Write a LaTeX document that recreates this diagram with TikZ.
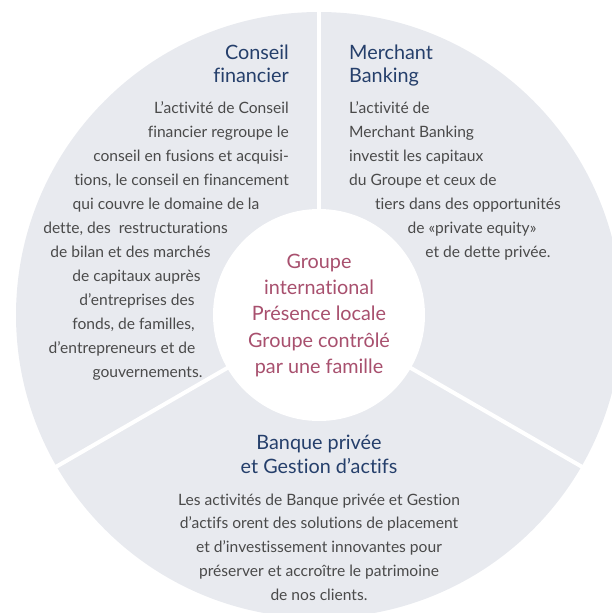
\documentclass[tikz,border=0pt]{standalone}
\usepackage{fontspec}
\usetikzlibrary{calc}
\setmainfont{Lato}[Ligatures={NoCommon}]
\definecolor{wheelgrey}{HTML}{E8EAEF}
\definecolor{titlenavy}{HTML}{253F6B}
\definecolor{centrerose}{HTML}{A8506E}
\definecolor{bodygrey}{HTML}{4A4A4A}
\tikzset{
  body/.style={inner sep=0pt, text=bodygrey, font=\fontsize{15.6}{24}\selectfont},
  ttl/.style={inner sep=0pt, text=titlenavy, font=\fontsize{19.8}{24}\selectfont},
  ctr/.style={inner sep=0pt, text=centrerose, font=\fontsize{19.8}{26}\selectfont},
  divider/.style={draw=white, line width=4pt}
}
\begin{document}
\begin{tikzpicture}[x=1pt,y=-1pt]
\useasboundingbox (0,0) rectangle (612,613);
\coordinate (c) at (319,315);
\fill[wheelgrey] (c) circle[radius=303];
\coordinate (top) at (319,0);
\coordinate (ll) at ($(c)+(-268.5,155)$);
\coordinate (lr) at ($(c)+(268.5,155)$);
\draw[divider] (c) -- (top);
\draw[divider] (c) -- (ll);
\draw[divider] (c) -- (lr);
\fill[white] (c) circle[radius=106];

% Conseil financier
\node[ttl, anchor=base east] (cf1) at (289,59) {Conseil};
\node[ttl, anchor=base east] (cf2) at (289,82) {financier};
\node[body, anchor=base east] (a1) at (289,113) {L’activité de Conseil};
\node[body, anchor=base east] (a2) at (289,137) {financier regroupe le};
\node[body, anchor=base east] (a3) at (289,161) {conseil en fusions et acquisi-};
\node[body, anchor=base east] (a4) at (289,185) {tions, le conseil en financement};
\node[body, anchor=base] (a5) at (166,209) {qui couvre le domaine de la};
\node[body, anchor=base] (a6) at (135.5,233) {dette, des\ \ restructurations};
\node[body, anchor=base] (a7) at (130.5,257) {de bilan et des marchés};
\node[body, anchor=base] (a8) at (136.5,281) {de capitaux auprès};
\node[body, anchor=base] (a9) at (137,305) {d’entreprises des};
\node[body, anchor=base] (a10) at (133.5,329) {fonds, de familles,};
\node[body, anchor=base] (a11) at (122,353) {d’entrepreneurs et de};
\node[body, anchor=base] (a12) at (147.5,377) {gouvernements.};

% Merchant Banking
\node[ttl, anchor=base west] (mb1) at (349,59) {Merchant};
\node[ttl, anchor=base west] (mb2) at (349,82) {Banking};
\node[body, anchor=base west] (b1) at (349,113) {L’activité de};
\node[body, anchor=base west] (b2) at (349,137) {Merchant Banking};
\node[body, anchor=base west] (b3) at (349,161) {investit les capitaux};
\node[body, anchor=base west] (b4) at (349,185) {du Groupe et ceux de};
\node[body, anchor=base] (b5) at (468,209) {tiers dans des opportunités};
\node[body, anchor=base] (b6) at (472,233) {de «private equity»};
\node[body, anchor=base] (b7) at (488,257) {et de dette privée.};

% Centre
\node[ctr, anchor=base] (g1) at (319,268) {Groupe};
\node[ctr, anchor=base] (g2) at (319,294) {international};
\node[ctr, anchor=base] (g3) at (319,320) {Présence locale};
\node[ctr, anchor=base] (g4) at (319,347) {Groupe contrôlé};
\node[ctr, anchor=base] (g5) at (319,373) {par une famille};

% Banque privee
\node[ttl, anchor=base] (bp1) at (319,449) {Banque privée};
\node[ttl, anchor=base] (bp2) at (319,473) {et Gestion d’actifs};
\node[body, anchor=base] (c1) at (319,505) {Les activités de Banque privée et Gestion};
\node[body, anchor=base] (c2) at (319,528) {d’actifs orent des solutions de placement};
\node[body, anchor=base] (c3) at (319,552) {et d’investissement innovantes pour};
\node[body, anchor=base] (c4) at (319,576) {préserver et accroître le patrimoine};
\node[body, anchor=base] (c5) at (319,600) {de nos clients.};
\end{tikzpicture}
\end{document}
